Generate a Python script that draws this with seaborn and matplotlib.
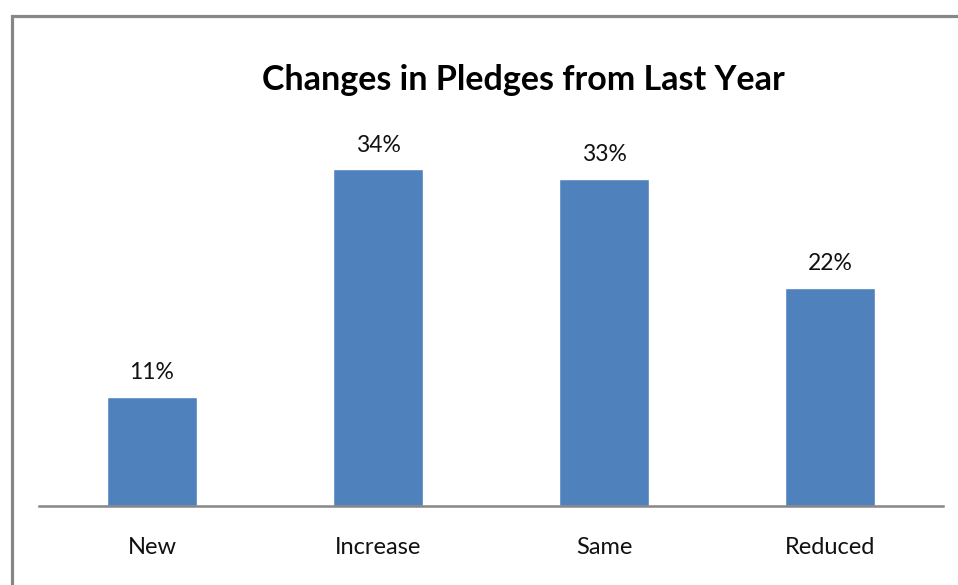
import matplotlib
matplotlib.use("Agg")
import matplotlib.pyplot as plt
import matplotlib.patches as mpatches
import pandas as pd
import seaborn as sns

categories = ["New", "Increase", "Same", "Reduced"]
pct_values = [11, 34, 33, 22]
pct_labels = ["11%", "34%", "33%", "22%"]

BAR_COLOR = "#4F81BD"
FRAME_COLOR = "#878787"

sns.set_theme(style="white")
plt.rcParams["font.family"] = ["Lato", "DejaVu Sans"]

df = pd.DataFrame({"category": categories, "pct": pct_values})

W, H = 958, 585
fig = plt.figure(figsize=(W / 100, H / 100), dpi=100)
ax = fig.add_axes([39 / W, 1 - 506 / H, (943 - 39) / W, (506 - 110) / H])

sns.barplot(data=df, x="category", y="pct", color=BAR_COLOR, saturation=1,
            width=0.40, ax=ax)
ax.set_ylim(0, 40)
ax.set_xlim(-0.5, len(categories) - 0.5)

for i, (v, lab) in enumerate(zip(pct_values, pct_labels)):
    ax.text(i, v + 1.4, lab, ha="center", va="bottom", fontsize=16.5, color="#111111")

ax.set_yticks([])
ax.set_xlabel("")
ax.set_ylabel("")
for side in ["left", "right", "top"]:
    ax.spines[side].set_visible(False)
ax.spines["bottom"].set_color(FRAME_COLOR)
ax.spines["bottom"].set_linewidth(1.8)
ax.tick_params(axis="x", length=0, pad=22, labelsize=17, labelcolor="#111111")

fig.text(523 / W, 1 - 80 / H, "Changes in Pledges from Last Year", ha="center",
         va="center", fontsize=24.5, fontweight="bold", color="#000000")

# outer chart frame (cut off at right and bottom in the reference)
frame = mpatches.Rectangle((11.5 / W, -0.1), 1.2, 1 - 16 / H + 0.1,
                           transform=fig.transFigure, fill=False,
                           edgecolor=FRAME_COLOR, linewidth=2.3, clip_on=False)
fig.patches.append(frame)

fig.savefig("out.png", dpi=100, facecolor="white")
